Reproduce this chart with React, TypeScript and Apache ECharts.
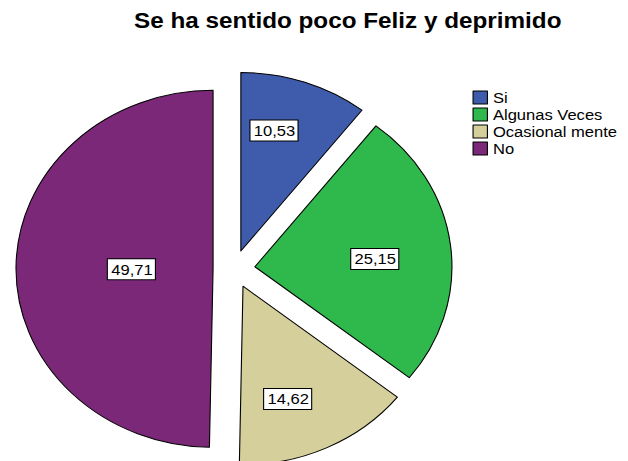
import React, { useEffect, useRef } from "react";
import * as echarts from "echarts";

const categories = ["Si", "Algunas Veces", "Ocasional mente", "No"];
const values = [10.53, 25.15, 14.62, 49.71];
const colors = ["#3F5BAB", "#2FB84C", "#D5CF9B", "#7B2878"];
const titleText = "Se ha sentido poco Feliz y deprimido";

const STRETCH = 1.104;
const W = Math.round(628 / STRETCH);
const H = 461;
const CX = 212;
const CY = 269;
const R = 178.5;
const OFFSET = 19;
// layout of each value box: radial distance from its slice's apex and small angular turn (deg, clockwise)
const labelDist = [126, 109, 118, 74];
const labelTurn = [-4.5, 1.5, 4.5, 0.5];

const fmt = (v: number) => v.toFixed(2).replace(".", ",");

export default function App() {
  const ref = useRef<HTMLDivElement>(null);
  useEffect(() => {
    if (!ref.current) return;
    const chart = echarts.init(ref.current, undefined, { renderer: "svg" });

    const labelStyle = {
      fontFamily: "Liberation Sans, Arial, sans-serif",
      fontSize: 15,
      color: "#000",
      backgroundColor: "#fff",
      borderColor: "#000",
      borderWidth: 1,
      padding: [3, 2, 2, 3],
    };

    const mainSeries = {
      type: "pie",
      center: [CX, CY],
      radius: [0, R],
      startAngle: 90,
      clockwise: true,
      selectedMode: "multiple",
      selectedOffset: OFFSET,
      avoidLabelOverlap: false,
      emphasis: { disabled: true },
      itemStyle: { borderColor: "#000", borderWidth: 1 },
      select: { itemStyle: { borderColor: "#000", borderWidth: 1 } },
      label: { show: false },
      labelLine: { show: false },
      data: categories.map((name, i) => ({
        name,
        value: values[i],
        selected: true,
        itemStyle: { color: colors[i] },
      })),
    };

    // transparent twins of the pie that only carry one value box each,
    // so each box sits at its own place inside its slice
    const labelSeries = categories.map((_, k) => ({
      type: "pie",
      center: [CX, CY + 2],
      radius: [0, 2 * (labelDist[k] - 3)],
      startAngle: 90 - labelTurn[k],
      clockwise: true,
      silent: true,
      selectedMode: "multiple",
      selectedOffset: OFFSET,
      avoidLabelOverlap: false,
      legendHoverLink: false,
      emphasis: { disabled: true },
      itemStyle: { color: "rgba(0,0,0,0)", borderWidth: 0 },
      select: { itemStyle: { color: "rgba(0,0,0,0)", borderWidth: 0 } },
      labelLine: { show: false },
      label: {
        show: true,
        position: "inside",
        formatter: (p: any) => fmt(Number(p.value)),
        ...labelStyle,
      },
      data: categories.map((name, i) => ({
        name,
        value: values[i],
        selected: true,
        label: { show: i === k },
      })),
      z: 3,
    }));

    chart.setOption({
      animation: false,
      backgroundColor: "#ffffff",
      color: colors,
      title: {
        text: titleText,
        left: 310,
        textAlign: "center",
        top: 4,
        textStyle: {
          fontFamily: "Liberation Sans, Arial, sans-serif",
          fontSize: 22,
          fontWeight: "bold",
          color: "#000",
        },
      },
      legend: {
        orient: "vertical",
        left: 428,
        top: 90,
        padding: 0,
        icon: "rect",
        itemWidth: 13,
        itemHeight: 13,
        itemGap: 2,
        selectedMode: false,
        data: categories,
        textStyle: {
          fontFamily: "Liberation Sans, Arial, sans-serif",
          fontSize: 15,
          color: "#000",
        },
        itemStyle: { borderColor: "#000", borderWidth: 1 },
      },
      series: [mainSeries, ...labelSeries],
    });
    return () => chart.dispose();
  }, []);
  return (
    <div
      ref={ref}
      style={{
        position: "absolute",
        left: 0,
        top: 0,
        width: W,
        height: H,
        transform: `scaleX(${STRETCH})`,
        transformOrigin: "0 0",
      }}
    />
  );
}
